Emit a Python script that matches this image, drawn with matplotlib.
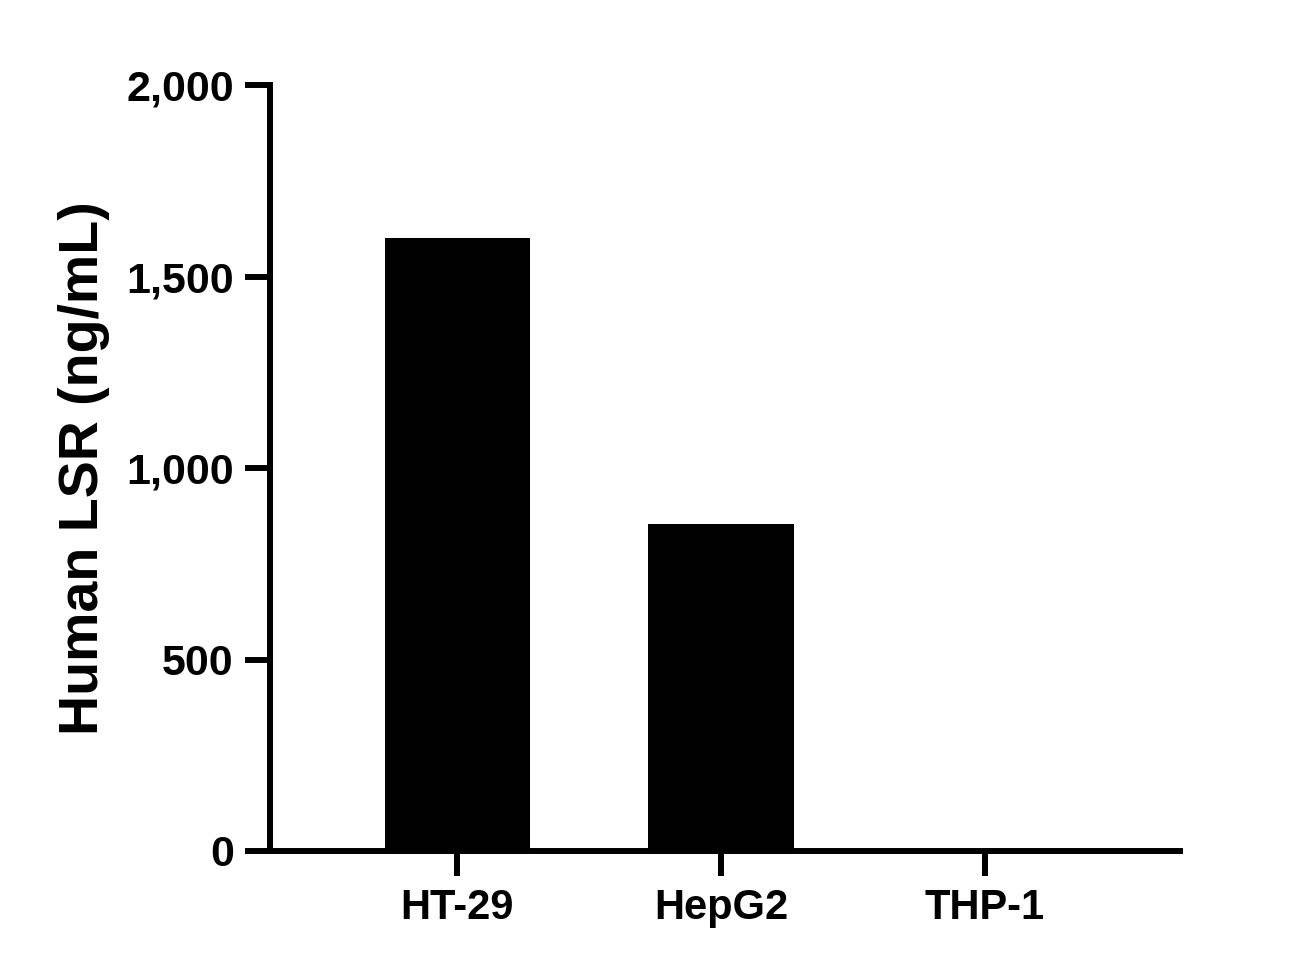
import numpy as np
import matplotlib
matplotlib.use("Agg")
import matplotlib.pyplot as plt
from matplotlib.ticker import FuncFormatter

# values
cell_lines = ["HT-29", "HepG2", "THP-1"]
lsr_ngml = [1600, 854, 0]
y_ticks = [0, 500, 1000, 1500, 2000]

plt.rcParams['font.family'] = ['Liberation Sans', 'DejaVu Sans']
plt.rcParams['font.weight'] = 'bold'

fig = plt.figure(figsize=(13.15, 9.72), dpi=100)
ax = fig.add_axes([0.2053, 0.1245, 0.692, 0.788])

x = np.arange(len(cell_lines))
ax.bar(x, lsr_ngml, width=0.55, color='black')

ax.set_xlim(-0.71, 2.74)
ax.set_ylim(0, 2000)
ax.set_yticks(y_ticks)
ax.yaxis.set_major_formatter(FuncFormatter(lambda v, p: f"{int(v):,}"))
ax.set_xticks(x)
ax.set_xticklabels(cell_lines)

for s in ['top', 'right']:
    ax.spines[s].set_visible(False)
for s in ['left', 'bottom']:
    ax.spines[s].set_linewidth(4.3)
    ax.spines[s].set_capstyle('projecting')

ax.tick_params(axis='y', length=18, width=4.3, labelsize=31, pad=8)
ax.tick_params(axis='x', length=18, width=4.3, labelsize=30, pad=9)
for lab in ax.get_xticklabels() + ax.get_yticklabels():
    lab.set_fontweight('bold')

ax.set_ylabel("Human LSR (ng/mL)", fontsize=40, fontweight='bold', labelpad=12)

fig.savefig("out.png", dpi=100)
